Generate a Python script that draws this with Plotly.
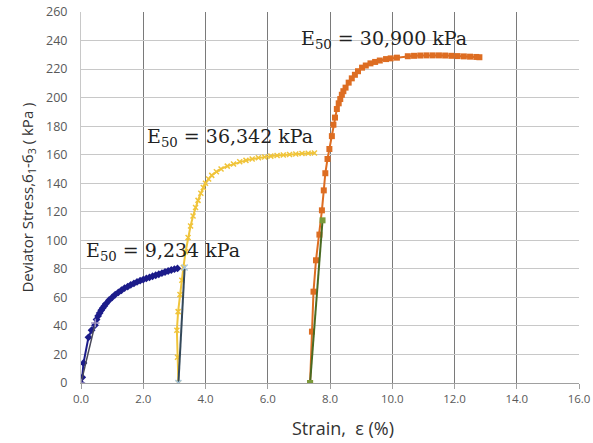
import plotly.graph_objects as go

# ---- data ----
blue_x = [0.0, 0.04, 0.08, 0.24, 0.34, 0.45, 0.5, 0.55, 0.6, 0.65, 0.7, 0.75, 0.8, 0.9, 1.0,
          1.1, 1.2, 1.3, 1.4, 1.5, 1.6, 1.7, 1.8, 1.9, 2.0, 2.1, 2.2, 2.3, 2.4, 2.5, 2.6,
          2.7, 2.8, 2.9, 3.0, 3.1]
blue_y = [0, 4, 14, 32, 37, 40.5, 44.5, 47, 49, 51, 52.5, 54, 55.5, 58, 60,
          62, 63.5, 65, 66.5, 67.5, 68.8, 69.8, 70.8, 71.7, 72.5, 73.3, 74, 74.8, 75.5, 76.2, 77,
          77.8, 78.5, 79.2, 79.8, 80.3]

yellow_x = [3.13, 3.10, 3.08, 3.12, 3.18, 3.24, 3.29, 3.36, 3.44, 3.52, 3.60, 3.68, 3.76, 3.85,
            3.93, 4.0, 4.1, 4.2, 4.35, 4.5, 4.7, 4.9, 5.1, 5.3, 5.5, 5.7, 5.9, 6.1, 6.3, 6.5,
            6.7, 6.9, 7.1, 7.3, 7.5]
yellow_y = [0, 18, 37, 50, 62, 72, 81, 92, 102, 110, 117, 123, 128, 133,
            137, 140, 143, 145.5, 148, 150, 152, 153.5, 155, 156, 157, 157.8, 158.4, 159, 159.4, 159.8,
            160.2, 160.5, 160.8, 161, 161.2]

orange_x = [7.36, 7.42, 7.47, 7.55, 7.66, 7.74, 7.80, 7.85, 7.92, 7.98, 8.06, 8.11, 8.16, 8.22,
            8.28, 8.33, 8.38, 8.43, 8.5, 8.6, 8.7, 8.8, 8.9, 9.03, 9.15, 9.3, 9.45, 9.6, 9.8,
            9.95, 10.15, 10.5, 10.7, 10.9, 11.1, 11.3, 11.5, 11.7, 11.9, 12.1, 12.3, 12.5, 12.7, 12.8]
orange_y = [0, 36, 64, 86, 104, 121, 135, 147, 157, 164, 173, 181, 186, 192,
            196, 199, 202, 204.5, 207, 210.5, 213.5, 216, 218.5, 221, 222.5, 224, 225, 226, 227,
            227.5, 228, 229, 229.3, 229.5, 229.6, 229.6, 229.6, 229.5, 229.3, 229.1, 228.9, 228.7, 228.5, 228.3]

sec1_x = [0.0, 0.46]
sec1_y = [0, 42]
sec2_x = [3.13, 3.33]
sec2_y = [0, 81]
sec3_x = [7.36, 7.76]
sec3_y = [0, 114]

labels = ["E<sub>50</sub> = 9,234 kPa", "E<sub>50</sub> = 36,342 kPa", "E<sub>50</sub> = 30,900 kPa"]
label_x = [2.62, 4.8, 9.75]
label_y = [92, 172, 241]

x_ticks = [0, 2, 4, 6, 8, 10, 12, 14, 16]
x_tick_text = ["0.0", "2.0", "4.0", "6.0", "8.0", "10.0", "12.0", "14.0", "16.0"]
x_title = "Strain,  ε (%)"
y_title = "Deviator Stress,б<sub>1</sub>-б<sub>3</sub> ( kPa )"

fig = go.Figure()

fig.add_trace(go.Scatter(x=blue_x, y=blue_y, mode="lines+markers",
                         line=dict(color="#1c1c8a", width=2),
                         marker=dict(symbol="diamond", size=6, color="#1c1c8a")))
fig.add_trace(go.Scatter(x=yellow_x, y=yellow_y, mode="lines+markers",
                         line=dict(color="#f0c43a", width=2),
                         marker=dict(symbol="x-thin", size=5, color="#f0c43a",
                                     line=dict(color="#f0c43a", width=1.5))))
fig.add_trace(go.Scatter(x=orange_x, y=orange_y, mode="lines+markers",
                         line=dict(color="#dd6d22", width=2),
                         marker=dict(symbol="square", size=6, color="#dd6d22")))
fig.add_trace(go.Scatter(x=sec1_x, y=sec1_y, mode="lines+markers",
                         line=dict(color="#4a4a5a", width=1.5),
                         marker=dict(symbol="cross-thin", size=6, color="#9a8fc0",
                                     line=dict(color="#9a8fc0", width=1.5))))
fig.add_trace(go.Scatter(x=sec2_x, y=sec2_y, mode="lines+markers",
                         line=dict(color="#34495a", width=2),
                         marker=dict(symbol="x-thin", size=6, color="#a8c8e0",
                                     line=dict(color="#a8c8e0", width=1.5))))
fig.add_trace(go.Scatter(x=sec3_x, y=sec3_y, mode="lines+markers",
                         line=dict(color="#4a6a22", width=2),
                         marker=dict(symbol="square", size=6, color="#7a9a3a")))

for t, ax_, ay_ in zip(labels, label_x, label_y):
    fig.add_annotation(x=ax_, y=ay_, text=t, showarrow=False,
                       font=dict(family="DejaVu Serif", size=19, color="#222222"))

fig.add_annotation(x=0.526, y=-0.122, xref="paper", yref="paper", text=x_title,
                   showarrow=False, yanchor="middle",
                   font=dict(family="Open Sans", size=18, color="#333333"))

fig.update_layout(
    width=593, height=443,
    margin=dict(l=81, r=14, t=12, b=60, autoexpand=False),
    paper_bgcolor="white", plot_bgcolor="white",
    showlegend=False,
    font=dict(family="Open Sans", color="#595959"),
    xaxis=dict(range=[0, 16], tickvals=x_ticks, ticktext=x_tick_text,
               showgrid=True, gridcolor="#7a7a7a", gridwidth=1,
               showline=True, linecolor="#a0a0a0", linewidth=1,
               ticks="outside", ticklen=5, tickcolor="#a0a0a0",
               tickfont=dict(size=11.5, color="#595959"), zeroline=False, automargin=False),
    yaxis=dict(range=[0, 260], dtick=20,
               showgrid=True, gridcolor="#c8c8c8", gridwidth=1,
               showline=True, linecolor="#c8c8c8", linewidth=1,
               ticks="", tickfont=dict(size=12.5, color="#595959"), zeroline=False, automargin=False,
               ticklabelstandoff=10,
               title=dict(text=y_title, font=dict(size=15, color="#333333"), standoff=8)),
)

fig.write_html("out.html", config={"displayModeBar": False},
               post_script="document.body.style.margin='0';document.body.style.overflow='hidden';")
